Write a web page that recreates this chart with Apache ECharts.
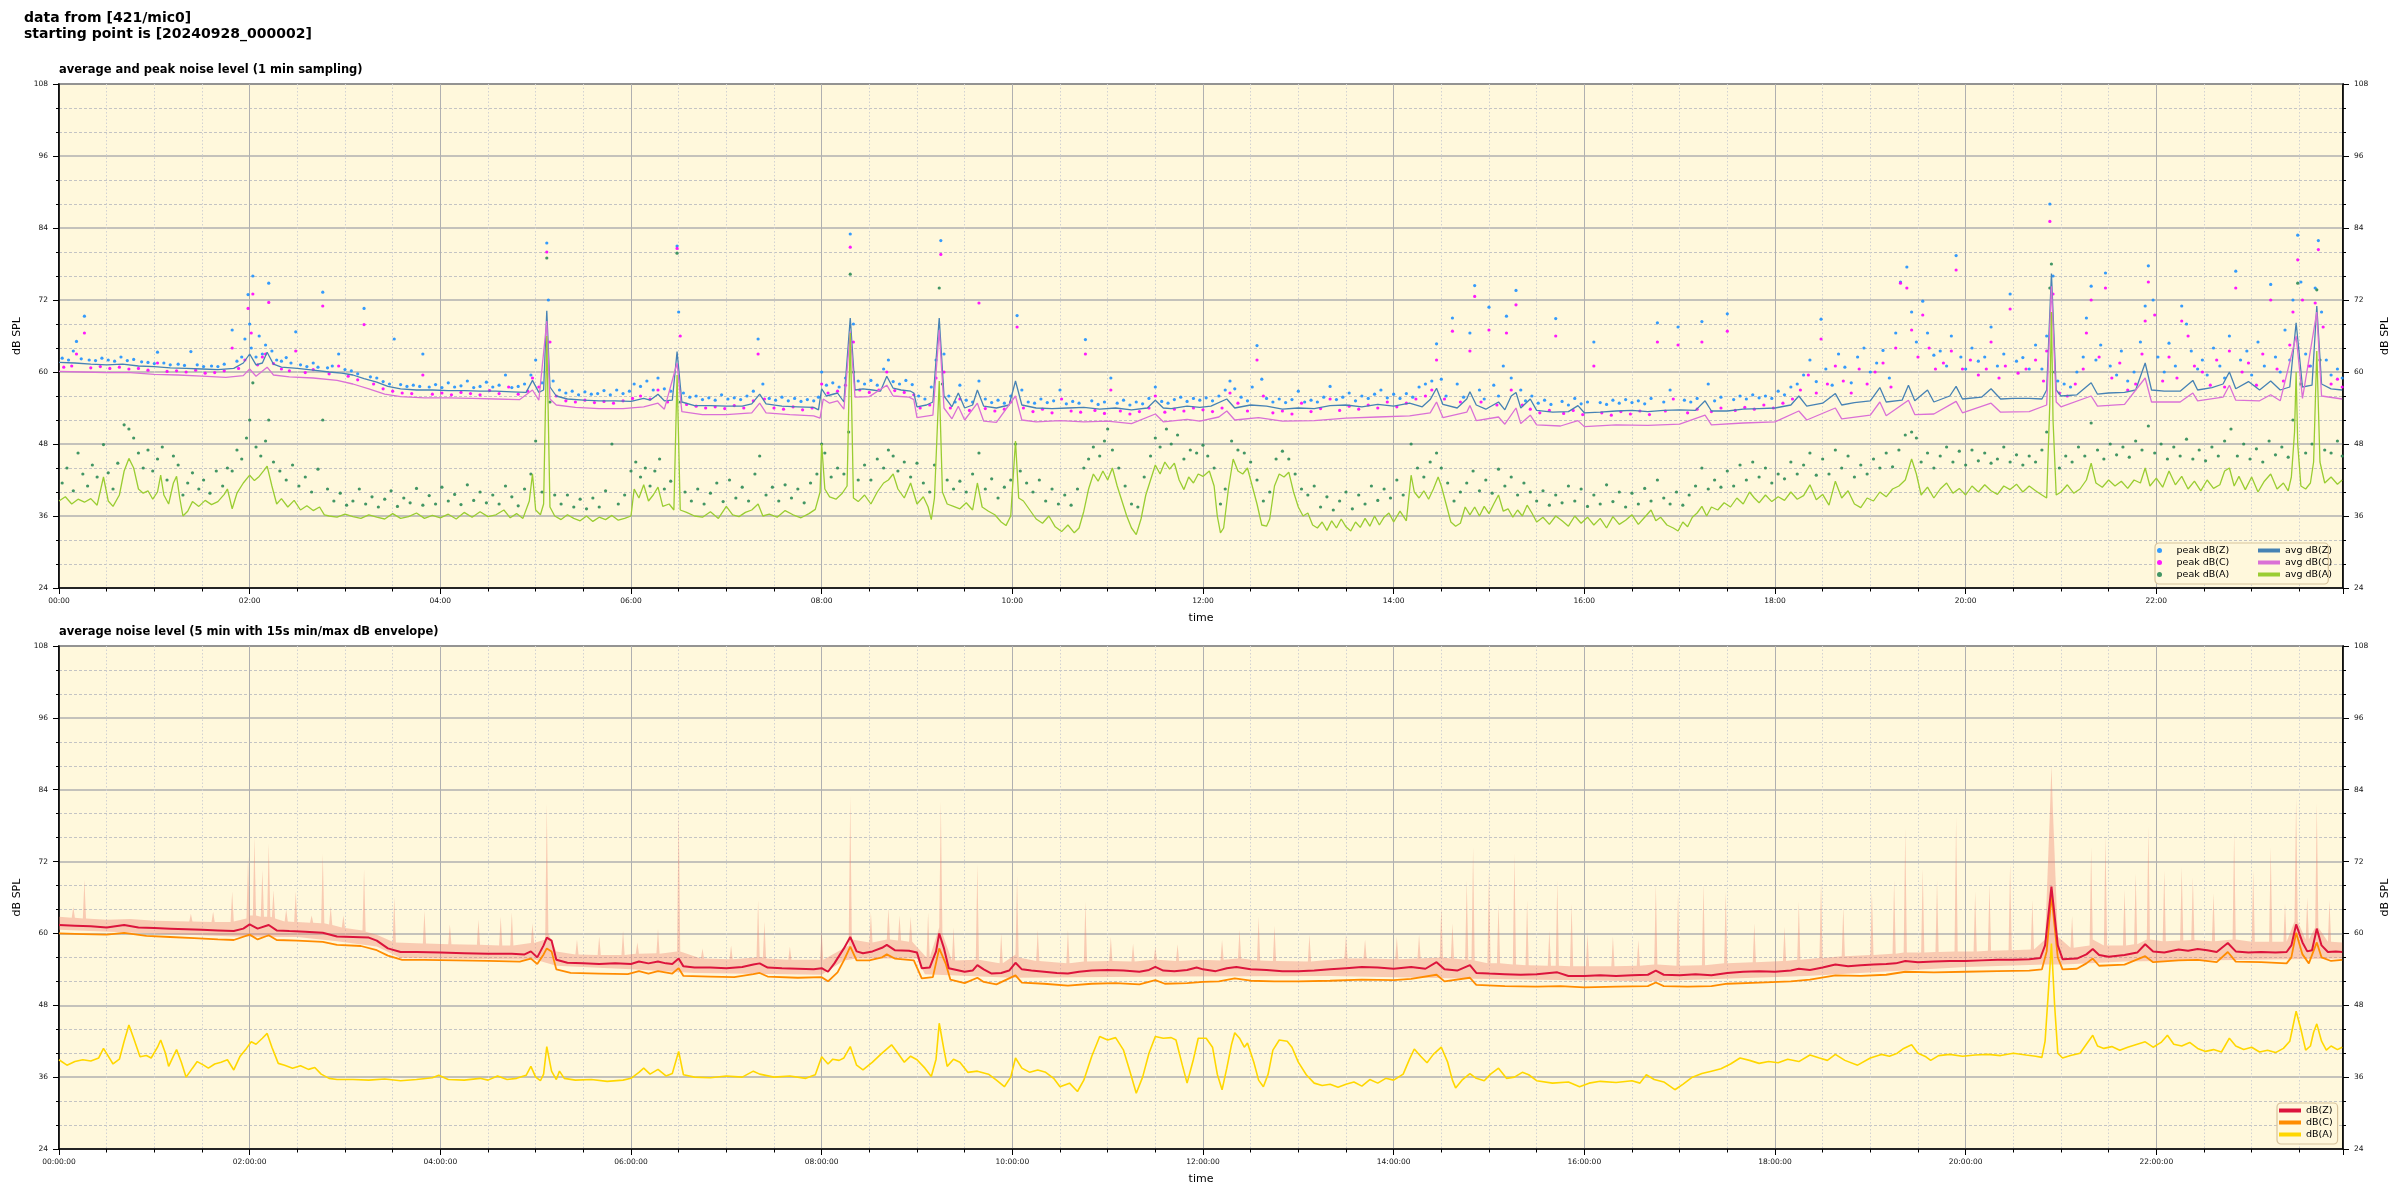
<!DOCTYPE html>
<html><head><meta charset="utf-8">
<script src="https://cdn.jsdelivr.net/npm/echarts@6/dist/echarts.min.js"></script>
<style>html,body{margin:0;padding:0;background:#fff}#c{width:2400px;height:1200px}</style>
</head><body><div id="c"></div>
<script>
// ---- data (x = minutes since 00:00, y = dB SPL) ----
const avgZ = [[0,61.6],[10,61.5],[20,61.3],[30,61.2],[40,61.3],[50,61.0],[60,60.9],[70,60.7],[80,60.6],[90,60.5],[100,60.4],[110,60.6],[116,61.5],[120,63.0],[124,61.2],[128,61.5],[131,63.3],[135,61.3],[140,60.8],[150,60.6],[160,60.3],[170,60.0],[178,59.8],[185,59.5],[192,58.9],[200,58.3],[207,57.6],[215,57.2],[225,57.0],[235,57.0],[245,56.9],[255,56.9],[265,56.8],[275,56.8],[285,56.7],[294,56.6],[298,58.6],[302,56.6],[305,57.0],[307,70.2],[309,57.5],[313,56.0],[320,55.5],[330,55.3],[340,55.2],[350,55.2],[360,55.1],[368,55.6],[372,55.3],[377,56.3],[381,55.2],[386,55.3],[389,63.4],[392,55.0],[400,54.4],[410,54.4],[420,54.3],[430,54.3],[436,54.7],[441,56.3],[445,54.7],[455,54.3],[465,54.2],[475,54.1],[478,53.7],[480,57.2],[483,56.0],[490,56.5],[494,55.0],[498,69.0],[501,57.0],[506,57.2],[512,57.0],[517,56.8],[521,59.3],[525,57.3],[530,57.0],[536,56.8],[538,56.5],[540,54.2],[546,54.5],[550,55.0],[554,69.0],[557,56.0],[562,54.2],[566,56.5],[570,54.0],[575,54.5],[578,57.0],[582,54.3],[590,54.0],[598,54.5],[602,58.5],[606,54.5],[615,54.0],[625,53.9],[635,54.0],[645,54.1],[655,53.8],[665,54.0],[675,53.7],[685,54.0],[690,55.3],[695,54.0],[700,53.9],[710,54.3],[718,54.1],[725,54.3],[735,55.5],[740,54.0],[750,54.5],[760,54.3],[770,53.8],[780,54.0],[790,53.9],[800,54.4],[810,54.5],[820,54.2],[830,54.6],[840,54.3],[850,54.8],[858,54.2],[863,55.4],[867,57.3],[871,54.6],[880,54.0],[886,55.5],[888,56.7],[892,54.5],[898,53.8],[906,55.0],[910,53.7],[914,56.0],[917,56.6],[920,54.0],[926,55.5],[930,53.6],[940,53.3],[950,53.4],[956,54.4],[960,53.2],[970,53.3],[980,53.5],[990,53.6],[1000,53.4],[1010,53.6],[1020,53.7],[1030,53.6],[1036,55.2],[1040,53.5],[1050,53.5],[1060,53.8],[1070,53.9],[1080,54.0],[1090,54.5],[1095,56.0],[1100,54.3],[1110,54.8],[1118,56.4],[1122,54.5],[1130,54.9],[1140,55.2],[1146,57.4],[1150,55.0],[1160,55.3],[1164,57.8],[1168,55.2],[1176,57.0],[1180,55.0],[1190,56.0],[1194,57.6],[1198,55.5],[1210,55.8],[1216,57.2],[1222,55.5],[1230,55.6],[1240,55.6],[1248,55.5],[1251,57.0],[1254,76.4],[1257,57.0],[1260,56.0],[1270,56.2],[1279,58.2],[1283,56.3],[1290,56.5],[1300,56.6],[1307,57.0],[1313,61.5],[1317,57.0],[1325,56.8],[1335,56.8],[1343,58.6],[1346,57.0],[1355,57.4],[1362,58.0],[1366,60.0],[1370,57.2],[1378,58.4],[1385,57.0],[1392,58.5],[1398,57.0],[1404,57.5],[1408,68.2],[1412,57.5],[1418,57.8],[1421,71.0],[1424,58.0],[1430,57.2],[1437,57.0]];

const avgC = [[0,60.1],[15,60.0],[30,59.9],[45,59.9],[60,59.6],[75,59.5],[90,59.3],[105,59.1],[116,59.4],[120,60.5],[124,59.3],[131,60.8],[135,59.5],[145,59.2],[160,59.0],[175,58.6],[185,58.0],[195,57.2],[205,56.3],[215,55.9],[230,55.7],[245,55.7],[260,55.6],[275,55.5],[290,55.4],[298,57.0],[302,55.3],[307,68.5],[309,55.5],[313,54.5],[325,54.1],[340,53.9],[355,53.9],[368,54.2],[377,54.8],[381,53.8],[389,61.5],[392,53.4],[405,52.9],[420,52.9],[436,53.2],[441,54.8],[445,53.2],[460,52.9],[475,52.7],[479,52.3],[481,55.5],[485,54.8],[490,55.2],[494,53.8],[498,66.8],[501,55.8],[510,55.9],[521,57.8],[525,56.0],[535,55.8],[538,55.4],[540,52.4],[550,52.8],[554,67.0],[557,54.0],[562,52.2],[566,54.3],[570,52.0],[578,54.8],[582,51.8],[590,51.6],[602,56.0],[606,52.0],[615,51.7],[630,51.9],[645,51.7],[660,51.8],[675,51.4],[690,53.0],[695,51.7],[710,52.1],[718,51.8],[730,52.5],[735,53.5],[740,52.0],[755,52.4],[770,51.8],[790,51.9],[810,52.3],[830,52.5],[850,52.7],[863,53.2],[867,55.0],[871,52.4],[886,53.3],[888,54.4],[892,51.9],[906,52.5],[910,51.3],[917,54.0],[920,51.4],[926,52.8],[930,51.2],[945,51.0],[956,51.9],[960,50.9],[980,51.2],[1000,51.1],[1020,51.3],[1036,52.8],[1040,51.2],[1060,51.5],[1080,51.7],[1095,53.5],[1100,52.0],[1118,54.0],[1122,52.2],[1140,52.8],[1146,55.0],[1150,52.7],[1164,55.3],[1168,52.9],[1180,53.0],[1194,55.1],[1198,53.2],[1216,54.8],[1222,53.3],[1240,53.4],[1251,54.5],[1254,74.3],[1257,55.0],[1260,54.2],[1279,56.0],[1283,54.3],[1300,54.6],[1313,59.0],[1317,55.0],[1335,55.0],[1343,56.5],[1346,55.2],[1362,55.8],[1366,57.8],[1370,55.3],[1385,55.2],[1392,56.2],[1398,55.2],[1408,66.0],[1412,55.6],[1421,70.0],[1424,56.0],[1437,55.5]];

const avgA = [[0,38.5],[4,39.2],[8,38.0],[12,38.8],[16,38.3],[20,38.9],[24,37.8],[28,42.5],[31,38.5],[34,37.6],[38,39.5],[41,43.5],[44,45.6],[47,44.0],[50,40.5],[53,39.8],[56,40.2],[59,38.8],[62,40.0],[64,42.8],[66,39.5],[69,38.0],[72,41.5],[74,42.6],[76,39.0],[78,36.0],[81,36.8],[84,38.4],[88,37.6],[92,38.6],[96,37.9],[100,38.4],[104,39.6],[106,40.5],[109,37.2],[112,39.8],[116,41.5],[120,42.8],[123,41.9],[126,42.6],[129,43.6],[131,44.3],[134,41.0],[137,38.0],[140,38.9],[144,37.5],[148,38.6],[152,37.0],[156,37.7],[160,36.9],[164,37.5],[167,36.2],[170,36.0],[175,35.8],[180,36.3],[185,35.9],[190,35.6],[195,36.2],[200,35.8],[205,35.5],[210,36.4],[215,35.6],[220,35.9],[225,36.5],[230,35.6],[235,36.1],[240,35.7],[245,36.3],[250,35.5],[255,36.6],[260,35.8],[265,36.7],[270,35.9],[275,36.2],[280,37.0],[284,35.7],[288,36.4],[292,35.6],[296,38.5],[298,43.0],[300,37.0],[303,36.2],[305,38.0],[307,66.0],[309,37.5],[312,36.0],[316,35.4],[320,36.2],[324,35.6],[328,35.2],[332,36.0],[336,35.1],[340,35.8],[344,35.4],[348,36.1],[352,35.3],[356,35.6],[360,36.0],[362,40.5],[365,39.0],[368,41.2],[371,38.5],[374,39.5],[377,40.8],[380,37.6],[384,38.0],[387,37.0],[389,59.5],[391,37.0],[395,36.6],[400,36.0],[405,35.8],[410,36.7],[415,35.6],[420,37.6],[424,36.2],[428,35.9],[432,36.6],[436,37.0],[440,38.0],[443,36.0],[447,36.3],[452,35.8],[457,36.9],[462,36.2],[467,35.7],[472,36.4],[476,37.1],[479,40.0],[480,48.0],[482,40.5],[485,39.2],[489,38.8],[493,39.8],[496,41.0],[498,66.5],[500,39.0],[503,38.4],[507,39.5],[511,38.0],[515,40.0],[519,41.5],[522,42.0],[525,43.0],[528,40.5],[532,39.0],[536,41.5],[540,38.0],[544,39.2],[547,37.5],[549,35.4],[551,39.0],[554,58.5],[556,40.0],[559,38.0],[563,37.6],[567,37.2],[571,38.2],[575,37.0],[578,41.5],[581,37.5],[585,36.8],[589,36.2],[593,35.0],[596,34.4],[599,36.0],[602,48.5],[604,39.0],[607,38.5],[611,37.0],[615,35.5],[619,34.8],[623,36.0],[627,34.2],[631,33.4],[635,34.5],[639,33.2],[642,34.0],[645,36.8],[648,40.5],[651,43.0],[654,41.8],[657,43.5],[660,42.0],[663,44.0],[666,41.0],[669,38.5],[672,36.0],[675,34.0],[678,32.9],[681,35.5],[684,39.5],[687,42.0],[690,44.5],[693,43.0],[696,45.0],[699,43.8],[702,44.8],[705,42.0],[708,40.4],[711,42.5],[714,41.5],[717,43.0],[720,42.6],[724,43.5],[727,41.0],[729,36.0],[731,33.2],[733,34.0],[736,40.5],[739,45.5],[742,43.5],[745,43.0],[748,44.0],[751,41.0],[754,38.0],[757,34.5],[760,34.3],[762,35.5],[765,41.0],[768,43.0],[771,42.5],[774,43.3],[777,40.0],[780,37.5],[783,36.0],[786,36.5],[789,34.5],[792,34.0],[795,35.0],[798,33.6],[801,35.2],[804,34.0],[807,35.5],[810,34.2],[813,33.5],[816,35.0],[819,34.1],[822,35.6],[825,34.3],[828,36.0],[831,34.5],[834,35.8],[837,36.5],[840,35.0],[844,36.8],[848,35.2],[851,42.8],[853,40.0],[856,39.0],[859,40.2],[862,38.8],[865,40.5],[868,42.5],[870,41.0],[873,38.0],[876,35.0],[879,34.3],[882,34.8],[885,37.5],[888,36.2],[891,37.5],[894,36.0],[897,37.6],[900,36.4],[903,38.0],[906,39.5],[909,36.8],[912,37.2],[915,35.8],[918,37.0],[921,36.0],[924,37.8],[927,36.5],[930,35.0],[934,35.8],[938,34.6],[942,36.0],[946,35.2],[950,34.3],[954,36.0],[958,34.8],[962,35.8],[966,34.5],[970,35.6],[974,34.0],[978,35.9],[982,34.6],[986,35.3],[990,36.2],[994,34.6],[998,35.8],[1002,37.0],[1005,35.2],[1008,35.8],[1012,34.5],[1016,34.0],[1019,33.5],[1022,35.0],[1025,34.2],[1028,35.8],[1031,36.5],[1034,37.6],[1037,36.0],[1040,37.5],[1044,37.0],[1048,38.2],[1052,37.5],[1056,39.0],[1060,38.0],[1064,40.0],[1067,39.0],[1070,38.2],[1074,39.5],[1078,38.4],[1082,39.2],[1086,38.6],[1090,40.0],[1094,38.8],[1098,39.4],[1102,41.2],[1106,38.7],[1110,39.6],[1114,37.8],[1118,41.8],[1122,39.0],[1126,40.2],[1130,38.0],[1134,37.4],[1138,39.0],[1142,38.5],[1146,40.0],[1150,39.2],[1154,40.5],[1158,41.0],[1162,42.0],[1166,45.5],[1169,43.0],[1172,39.5],[1176,40.8],[1180,39.0],[1184,40.5],[1188,41.5],[1192,39.8],[1196,40.6],[1200,39.5],[1204,41.0],[1208,40.0],[1212,41.2],[1216,40.2],[1220,39.6],[1224,41.0],[1228,40.4],[1232,41.3],[1236,40.0],[1240,41.0],[1244,40.2],[1248,39.5],[1251,39.0],[1253,55.0],[1254,70.0],[1255,52.0],[1257,39.5],[1260,40.0],[1264,41.2],[1268,39.8],[1272,40.5],[1276,42.0],[1279,44.8],[1282,41.5],[1286,40.8],[1290,42.0],[1294,41.0],[1298,41.8],[1302,40.6],[1306,42.0],[1310,41.5],[1313,44.0],[1316,41.0],[1320,42.3],[1324,40.8],[1328,43.5],[1332,41.2],[1336,42.6],[1340,40.5],[1344,41.8],[1348,40.2],[1352,42.0],[1356,40.6],[1360,41.2],[1363,43.5],[1366,44.0],[1369,41.0],[1372,42.6],[1376,40.4],[1380,42.5],[1384,40.0],[1388,41.8],[1392,43.0],[1396,40.5],[1400,41.5],[1403,40.2],[1405,42.5],[1407,50.0],[1408,60.0],[1409,48.0],[1411,41.0],[1414,40.5],[1417,41.5],[1419,45.0],[1421,63.5],[1423,45.0],[1426,41.5],[1430,42.5],[1434,41.3],[1437,42.0]];

const peakZ = [[2,62.3],[6,62.0],[9,63.5],[11,65.1],[14,62.2],[16,69.3],[19,62.0],[23,61.9],[27,62.3],[31,62.0],[35,61.8],[39,62.5],[43,61.9],[47,62.1],[52,61.7],[56,61.6],[60,61.4],[62,63.3],[66,61.5],[70,61.2],[75,61.3],[79,61.1],[83,63.4],[87,61.2],[91,60.9],[96,61.0],[100,60.9],[104,61.3],[109,67.0],[112,61.8],[115,62.5],[117,65.5],[119,72.9],[120,68.0],[121,64.0],[122,76.0],[124,62.5],[126,66.0],[128,63.0],[130,64.5],[132,74.8],[134,63.5],[137,62.0],[140,61.8],[143,62.4],[146,61.5],[149,66.7],[152,61.2],[156,60.9],[160,61.5],[163,60.8],[166,73.3],[169,60.7],[172,61.0],[176,63.0],[180,60.4],[184,60.2],[188,59.7],[192,70.6],[196,59.2],[200,59.0],[204,58.4],[208,58.0],[211,65.5],[215,57.9],[219,57.6],[223,57.8],[227,57.6],[229,63.0],[233,57.5],[237,57.9],[241,57.4],[245,58.2],[249,57.5],[253,57.7],[257,58.5],[261,57.4],[265,57.6],[269,58.3],[273,57.5],[277,57.8],[281,59.5],[285,57.4],[289,57.6],[293,58.0],[297,59.5],[300,62.0],[304,58.2],[307,81.5],[308,72.0],[311,58.5],[315,57.0],[319,56.5],[323,56.8],[327,56.2],[331,56.7],[335,56.3],[339,56.4],[343,56.9],[347,56.2],[351,57.0],[355,56.4],[359,56.8],[362,58.0],[366,57.6],[370,58.5],[374,57.0],[377,59.0],[381,57.2],[385,56.8],[389,81.0],[390,70.0],[393,56.5],[397,55.8],[401,56.0],[405,55.4],[409,55.7],[413,55.3],[417,56.2],[421,55.5],[425,55.7],[429,55.4],[433,56.0],[437,56.8],[440,65.5],[443,58.0],[447,55.6],[451,55.3],[455,55.8],[459,55.2],[463,55.6],[467,55.1],[471,55.4],[475,55.2],[478,55.8],[480,60.0],[483,57.8],[487,58.2],[491,57.5],[495,59.0],[498,83.0],[500,68.0],[503,58.5],[507,58.0],[511,58.6],[515,57.8],[519,60.5],[522,62.0],[525,58.4],[529,58.0],[533,58.6],[537,57.9],[541,56.0],[545,55.5],[549,57.5],[552,62.0],[555,81.9],[557,63.0],[560,56.0],[564,55.0],[567,57.8],[571,55.3],[575,55.0],[579,58.5],[583,55.5],[587,54.9],[591,55.3],[595,54.8],[599,56.0],[603,69.4],[606,57.0],[610,55.0],[614,54.8],[618,55.5],[622,54.9],[626,55.2],[630,57.0],[634,54.7],[638,55.1],[642,54.8],[646,65.4],[650,55.2],[654,54.6],[658,55.0],[662,59.0],[666,54.8],[670,55.3],[674,54.5],[678,55.0],[682,54.7],[686,55.6],[690,57.5],[694,55.1],[698,54.8],[702,55.4],[706,55.8],[710,55.1],[714,55.6],[718,55.3],[722,55.7],[726,55.2],[730,56.0],[734,57.0],[737,58.5],[740,57.2],[744,55.8],[748,55.2],[751,57.5],[754,64.4],[757,58.8],[760,55.6],[764,55.0],[768,55.5],[772,54.9],[776,55.4],[780,56.8],[784,55.0],[788,55.3],[792,55.0],[796,55.8],[800,57.6],[804,55.4],[808,55.8],[812,56.5],[816,55.2],[820,56.0],[824,55.6],[828,56.3],[832,57.0],[836,55.7],[840,56.3],[844,55.6],[848,56.4],[852,55.8],[856,57.5],[860,58.0],[864,58.5],[867,64.7],[870,58.8],[873,56.0],[877,69.0],[880,58.0],[884,55.8],[888,66.5],[891,74.4],[894,57.0],[897,55.5],[900,70.8],[903,57.8],[906,56.0],[909,61.0],[911,69.3],[914,59.0],[917,73.6],[920,57.0],[923,55.2],[927,56.0],[931,54.8],[935,55.3],[939,54.6],[942,68.9],[946,55.1],[950,54.5],[954,55.6],[958,54.7],[962,55.0],[966,65.0],[970,54.9],[974,54.6],[978,55.3],[982,54.8],[986,55.4],[990,54.9],[994,55.2],[998,54.7],[1002,55.6],[1006,68.2],[1010,55.0],[1014,57.0],[1019,67.5],[1023,55.3],[1027,55.0],[1031,55.6],[1034,68.4],[1038,58.0],[1042,55.2],[1046,55.8],[1050,69.7],[1054,55.4],[1058,56.0],[1062,55.5],[1066,56.2],[1070,55.7],[1074,56.0],[1078,55.6],[1082,56.8],[1086,56.2],[1090,57.5],[1094,58.0],[1098,59.5],[1102,62.0],[1106,58.4],[1109,68.8],[1112,60.5],[1116,57.8],[1120,63.0],[1124,60.8],[1128,58.2],[1132,62.5],[1136,64.0],[1140,60.0],[1144,61.5],[1148,63.6],[1152,59.0],[1156,66.5],[1159,75.0],[1163,77.5],[1166,70.0],[1169,65.0],[1173,71.8],[1176,66.5],[1180,62.8],[1184,63.5],[1188,61.0],[1191,66.0],[1194,79.4],[1197,62.5],[1200,60.5],[1204,64.0],[1208,61.8],[1212,62.5],[1216,67.5],[1220,61.0],[1224,63.0],[1228,73.0],[1232,61.8],[1236,62.4],[1240,60.5],[1244,64.5],[1248,60.5],[1251,66.0],[1253,88.0],[1255,76.0],[1258,58.5],[1262,58.0],[1266,57.5],[1270,60.0],[1274,62.5],[1276,69.0],[1279,74.3],[1282,62.0],[1285,64.5],[1288,76.5],[1291,61.0],[1295,59.5],[1298,63.5],[1302,58.5],[1306,60.0],[1310,65.0],[1313,71.0],[1315,77.7],[1318,72.0],[1321,62.5],[1325,60.0],[1328,64.8],[1332,61.0],[1336,71.0],[1339,68.0],[1342,63.5],[1346,60.5],[1349,62.0],[1352,59.5],[1356,64.0],[1360,61.0],[1363,59.0],[1366,66.0],[1370,76.8],[1373,62.0],[1377,63.5],[1380,59.5],[1384,65.0],[1388,61.0],[1392,74.6],[1395,62.5],[1398,60.0],[1401,67.0],[1404,62.0],[1406,72.0],[1409,82.8],[1411,75.0],[1414,63.0],[1417,61.0],[1420,74.0],[1422,81.9],[1424,70.0],[1427,62.0],[1430,59.5],[1434,60.5],[1437,59.0]];

const peakC = [[3,60.8],[8,61.0],[11,63.0],[16,66.5],[20,60.7],[26,60.9],[32,60.6],[38,60.8],[44,60.5],[50,60.6],[56,60.3],[62,61.5],[68,60.1],[74,60.2],[80,60.0],[86,60.3],[92,59.8],[98,59.9],[104,60.2],[109,64.0],[113,60.6],[117,62.0],[119,70.6],[121,66.5],[122,73.0],[125,61.2],[128,62.5],[130,63.0],[132,71.6],[135,61.4],[140,60.5],[145,60.2],[149,63.5],[155,59.9],[160,60.4],[166,71.0],[170,59.7],[176,61.0],[182,59.3],[188,58.7],[192,67.9],[198,58.0],[204,57.2],[210,56.8],[216,56.5],[222,56.4],[229,59.5],[235,56.3],[241,56.5],[247,56.2],[253,56.6],[259,56.4],[265,56.2],[271,56.9],[277,56.4],[283,57.5],[289,56.3],[295,56.8],[298,59.0],[302,57.5],[307,80.0],[309,65.0],[313,56.0],[319,55.2],[325,55.0],[331,55.3],[337,54.9],[343,55.1],[349,54.8],[355,55.2],[361,55.6],[366,56.0],[372,55.5],[377,57.0],[383,55.0],[389,80.6],[391,66.0],[395,54.6],[401,54.3],[407,54.0],[413,54.2],[419,53.9],[425,54.4],[431,54.0],[437,55.2],[440,63.0],[444,55.5],[450,54.0],[456,53.8],[462,54.2],[468,53.7],[474,54.0],[480,58.0],[484,56.5],[490,56.8],[495,57.8],[498,80.8],[500,65.0],[504,57.0],[510,56.6],[516,57.0],[521,60.0],[526,56.9],[532,56.6],[538,56.2],[542,54.0],[548,54.5],[552,59.0],[555,79.6],[557,60.0],[561,54.0],[567,55.5],[573,53.6],[579,71.5],[583,53.9],[589,53.5],[595,53.8],[599,55.0],[603,67.5],[607,54.0],[613,53.4],[619,53.8],[625,53.2],[631,55.5],[637,53.5],[643,53.3],[646,63.0],[652,53.6],[658,53.1],[662,57.0],[668,53.5],[674,53.0],[680,53.4],[686,54.0],[690,56.0],[696,53.3],[702,53.8],[708,53.5],[714,54.0],[720,53.7],[726,53.4],[732,54.0],[737,56.5],[742,54.8],[748,53.5],[754,62.0],[758,56.0],[764,53.2],[770,53.5],[776,53.0],[782,54.8],[788,53.4],[794,53.9],[800,55.5],[806,53.6],[812,54.3],[818,53.8],[824,54.5],[830,54.0],[836,55.0],[842,54.2],[848,54.8],[854,55.5],[860,56.0],[864,57.0],[867,62.0],[872,55.5],[877,66.8],[882,55.0],[888,63.5],[891,72.6],[895,55.0],[900,67.0],[905,54.5],[911,66.5],[914,57.0],[917,71.2],[921,54.5],[926,53.8],[932,53.2],[938,53.6],[942,66.0],[947,53.1],[953,53.6],[959,52.9],[966,61.0],[971,53.2],[977,52.8],[983,53.4],[989,53.0],[995,53.5],[1001,52.9],[1006,65.0],[1011,53.5],[1016,55.5],[1019,64.5],[1025,53.2],[1031,53.8],[1034,65.0],[1040,53.4],[1046,54.0],[1050,66.8],[1055,53.6],[1061,54.1],[1067,53.8],[1073,54.5],[1079,54.0],[1085,54.8],[1091,55.5],[1096,57.0],[1101,59.5],[1106,56.5],[1109,65.5],[1113,58.0],[1118,61.0],[1123,58.5],[1128,56.5],[1133,60.5],[1138,58.0],[1143,60.0],[1148,61.5],[1153,57.5],[1156,64.0],[1159,74.8],[1163,74.0],[1166,67.0],[1170,62.5],[1173,69.5],[1177,64.0],[1181,60.5],[1186,61.5],[1191,63.5],[1194,77.0],[1198,60.5],[1203,62.0],[1208,59.5],[1213,60.5],[1216,65.0],[1221,59.0],[1225,61.0],[1228,70.5],[1233,59.8],[1238,60.5],[1244,62.0],[1249,58.5],[1251,63.5],[1253,85.1],[1255,73.0],[1259,56.5],[1264,56.0],[1269,58.0],[1274,60.5],[1276,66.5],[1279,72.0],[1284,62.5],[1288,74.0],[1292,59.0],[1297,61.5],[1302,57.0],[1307,58.0],[1311,63.0],[1313,68.5],[1315,75.0],[1319,69.5],[1324,58.5],[1328,62.5],[1333,59.0],[1336,68.5],[1340,66.0],[1344,61.0],[1349,60.0],[1354,57.8],[1358,62.0],[1363,57.5],[1366,63.5],[1370,74.0],[1374,60.0],[1378,61.5],[1383,57.8],[1387,63.0],[1392,72.0],[1396,60.5],[1400,58.5],[1404,64.5],[1406,70.0],[1409,78.7],[1412,72.0],[1416,61.0],[1420,71.5],[1422,80.4],[1425,67.5],[1430,58.0],[1434,58.8],[1437,57.5]];

const peakA = [[2,41.5],[5,44.0],[9,40.2],[12,46.5],[15,43.0],[18,41.0],[21,44.5],[24,42.5],[28,47.9],[31,43.2],[34,40.5],[37,44.8],[41,51.2],[44,50.5],[47,49.0],[50,46.5],[53,44.0],[56,47.0],[59,43.5],[62,45.5],[65,47.5],[68,42.0],[72,46.0],[75,44.5],[78,39.5],[81,41.5],[84,43.2],[88,40.5],[91,42.0],[95,39.8],[99,43.5],[103,41.0],[106,44.0],[109,43.5],[112,47.0],[115,45.5],[118,49.0],[120,52.0],[122,58.2],[124,47.5],[127,46.0],[130,48.5],[132,52.0],[135,45.0],[139,43.5],[143,42.0],[147,44.5],[151,41.0],[155,42.5],[159,40.0],[163,43.8],[166,52.0],[169,40.5],[173,38.5],[177,39.8],[181,37.8],[185,38.5],[189,40.5],[193,38.0],[197,39.2],[201,37.5],[205,38.8],[209,40.2],[213,37.6],[217,39.0],[221,38.2],[225,40.6],[229,37.8],[233,39.4],[237,38.0],[241,40.8],[245,38.5],[249,39.6],[253,37.9],[257,41.2],[261,38.6],[265,40.0],[269,38.2],[273,39.5],[277,38.0],[281,41.0],[285,39.2],[289,37.7],[293,40.5],[297,43.0],[300,48.5],[304,40.0],[307,79.0],[309,55.0],[312,39.5],[316,38.0],[320,39.5],[324,37.5],[328,38.8],[332,37.2],[336,39.0],[340,37.5],[344,40.2],[348,48.0],[352,38.0],[356,39.5],[360,43.5],[363,45.0],[366,42.5],[369,44.0],[372,41.0],[375,43.5],[378,45.5],[381,40.5],[385,41.8],[389,79.8],[391,55.0],[394,40.0],[398,38.5],[402,40.5],[406,38.0],[410,39.8],[414,41.5],[418,38.4],[422,42.0],[426,39.0],[430,40.8],[434,38.5],[438,43.0],[441,46.0],[445,39.5],[449,40.8],[453,38.5],[457,41.2],[461,39.0],[465,40.5],[469,38.2],[473,41.5],[477,43.0],[480,48.0],[482,46.5],[486,42.5],[490,44.0],[494,43.0],[497,50.0],[498,76.3],[500,60.0],[503,42.0],[507,44.5],[511,42.0],[515,45.5],[519,44.0],[522,47.0],[525,46.0],[528,43.5],[532,45.0],[536,42.5],[540,44.8],[544,41.5],[548,40.0],[551,44.5],[554,74.0],[556,58.0],[559,42.0],[563,40.5],[567,41.8],[571,40.0],[575,43.0],[579,46.5],[583,40.5],[587,42.2],[591,39.0],[595,40.8],[599,42.0],[602,48.0],[605,43.5],[609,41.5],[613,40.0],[617,42.0],[621,38.5],[625,40.5],[629,38.0],[633,39.5],[637,37.8],[641,40.5],[645,44.0],[648,45.5],[651,47.5],[655,46.0],[658,48.5],[660,50.5],[663,47.0],[667,44.0],[671,41.0],[675,38.0],[679,37.5],[683,42.5],[687,46.0],[690,49.0],[693,47.5],[697,50.5],[700,48.0],[704,49.5],[708,45.5],[712,47.0],[716,46.5],[720,47.8],[723,46.0],[727,44.0],[731,38.0],[734,40.5],[738,48.5],[742,47.0],[746,46.5],[750,45.0],[754,42.0],[758,38.5],[762,40.0],[766,45.5],[770,46.8],[774,45.5],[778,43.0],[782,40.5],[786,39.5],[790,41.0],[794,37.5],[798,39.2],[802,37.0],[806,38.5],[810,40.0],[814,37.2],[818,39.5],[822,38.0],[826,41.0],[830,38.6],[834,40.5],[838,39.0],[842,42.0],[846,39.5],[851,48.0],[855,44.0],[859,42.5],[863,45.0],[867,46.5],[870,44.0],[874,41.5],[878,38.5],[882,40.0],[886,41.5],[890,43.5],[894,40.2],[898,42.0],[902,39.8],[906,43.8],[910,41.0],[914,42.5],[918,39.5],[922,41.5],[926,40.0],[930,38.5],[934,40.2],[938,37.8],[942,39.5],[946,38.2],[950,41.0],[954,38.5],[958,40.5],[962,37.6],[966,39.5],[970,38.0],[974,41.2],[978,38.4],[982,40.0],[986,37.5],[990,39.8],[994,38.0],[998,40.6],[1002,38.5],[1006,42.0],[1010,39.0],[1014,38.0],[1018,40.0],[1022,37.8],[1026,39.5],[1030,41.0],[1034,44.0],[1038,40.5],[1042,42.0],[1046,40.8],[1050,43.5],[1054,41.0],[1058,44.5],[1062,42.0],[1066,45.0],[1070,42.5],[1074,44.0],[1078,41.5],[1082,43.0],[1086,42.2],[1090,45.0],[1094,43.0],[1098,44.5],[1102,46.5],[1106,42.8],[1110,45.5],[1114,43.0],[1118,47.0],[1122,44.0],[1126,46.0],[1130,42.5],[1134,44.5],[1138,43.0],[1142,45.5],[1146,44.0],[1150,46.5],[1154,44.2],[1158,47.0],[1162,49.5],[1166,50.0],[1169,49.0],[1172,45.0],[1176,46.5],[1180,44.0],[1184,46.0],[1188,47.5],[1192,45.0],[1196,46.8],[1200,44.5],[1204,47.0],[1208,45.2],[1212,46.5],[1216,44.8],[1220,45.5],[1224,47.5],[1228,45.0],[1232,46.2],[1236,44.5],[1240,46.0],[1244,45.0],[1248,47.0],[1251,50.0],[1253,74.0],[1254,78.0],[1256,60.0],[1259,44.0],[1263,46.0],[1267,45.0],[1271,47.5],[1275,46.0],[1279,51.5],[1283,47.0],[1287,45.5],[1291,48.0],[1295,46.2],[1299,47.5],[1303,45.8],[1307,48.5],[1311,47.0],[1315,51.0],[1319,46.5],[1323,48.0],[1327,45.5],[1331,47.5],[1335,46.0],[1339,48.8],[1343,45.5],[1347,47.0],[1351,45.2],[1355,47.5],[1359,46.0],[1363,48.5],[1367,50.5],[1371,46.0],[1375,48.0],[1379,45.5],[1383,47.2],[1387,45.0],[1391,48.5],[1395,46.2],[1399,47.5],[1403,45.8],[1406,52.0],[1409,74.8],[1411,58.0],[1414,46.5],[1418,48.0],[1421,73.7],[1423,62.0],[1426,47.0],[1430,46.5],[1434,48.5],[1437,46.0]];

const z5 = [[0,61.4],[10,61.3],[20,61.2],[30,61.0],[41,61.4],[50,61.0],[60,60.9],[70,60.8],[80,60.7],[90,60.6],[100,60.5],[110,60.4],[116,60.8],[120,61.5],[125,60.8],[132,61.4],[137,60.5],[145,60.4],[155,60.3],[166,60.1],[175,59.5],[185,59.4],[195,59.3],[200,58.8],[207,57.5],[215,56.9],[225,56.9],[240,56.8],[255,56.7],[270,56.6],[285,56.6],[293,56.5],[297,57.0],[301,56.0],[305,58.0],[307,59.3],[310,58.8],[313,55.6],[320,55.1],[330,55.0],[340,54.9],[350,55.0],[360,54.9],[365,55.3],[371,55.0],[377,55.3],[382,55.0],[386,54.9],[390,55.8],[393,54.5],[400,54.3],[410,54.3],[420,54.2],[430,54.4],[437,54.8],[441,55.0],[446,54.3],[455,54.2],[465,54.1],[475,54.0],[480,54.2],[484,53.6],[488,55.0],[494,57.5],[498,59.4],[502,57.0],[506,56.7],[512,57.0],[518,57.6],[521,58.1],[526,57.2],[535,57.1],[540,56.8],[543,54.2],[548,54.3],[552,57.0],[554,60.0],[557,57.5],[560,54.2],[565,53.9],[570,53.6],[575,53.8],[578,54.7],[582,54.0],[587,53.3],[593,53.4],[598,53.8],[602,55.1],[606,54.0],[612,53.8],[620,53.6],[628,53.4],[635,53.3],[642,53.6],[650,53.8],[660,53.9],[670,53.8],[680,53.6],[686,53.9],[690,54.4],[695,53.8],[702,53.7],[710,53.9],[716,54.3],[720,54.0],[728,53.7],[735,54.2],[741,54.4],[750,54.0],[760,53.9],[770,53.7],[780,53.7],[790,53.8],[800,54.0],[810,54.2],[820,54.4],[830,54.3],[840,54.1],[851,54.4],[860,54.1],[867,55.2],[872,54.0],[880,53.8],[888,54.7],[892,53.4],[900,53.3],[910,53.2],[920,53.1],[930,53.2],[943,53.5],[950,52.9],[960,52.9],[970,53.0],[980,52.9],[990,53.0],[1000,53.1],[1005,53.8],[1010,53.1],[1020,53.0],[1030,53.2],[1040,53.0],[1050,53.4],[1060,53.6],[1070,53.7],[1080,53.6],[1090,53.8],[1095,54.1],[1102,53.9],[1110,54.3],[1118,54.8],[1126,54.5],[1134,54.7],[1142,54.8],[1150,54.9],[1156,55.0],[1162,55.4],[1170,55.2],[1180,55.3],[1190,55.4],[1200,55.4],[1210,55.5],[1220,55.6],[1230,55.6],[1240,55.7],[1247,55.9],[1250,58.0],[1254,67.8],[1258,58.0],[1261,55.7],[1270,55.8],[1276,56.5],[1280,57.4],[1284,56.4],[1290,56.1],[1300,56.4],[1308,56.8],[1313,58.2],[1318,57.0],[1325,56.8],[1334,57.3],[1340,57.1],[1346,57.4],[1352,57.2],[1358,56.9],[1365,58.4],[1370,57.0],[1378,56.8],[1386,56.9],[1395,56.8],[1402,56.9],[1405,58.0],[1408,61.5],[1412,58.5],[1415,57.0],[1418,57.2],[1421,60.8],[1424,58.0],[1428,56.9],[1433,57.0],[1437,56.9]];

const c5 = [[0,60.0],[15,59.9],[30,59.8],[41,60.1],[55,59.6],[70,59.4],[85,59.2],[100,59.0],[110,58.9],[120,59.8],[125,59.0],[132,59.7],[137,58.9],[150,58.8],[166,58.6],[175,58.1],[190,57.9],[200,57.2],[207,56.3],[216,55.6],[230,55.6],[250,55.5],[270,55.4],[290,55.3],[297,55.8],[301,54.9],[305,56.5],[307,57.5],[310,57.0],[313,54.0],[322,53.4],[340,53.3],[358,53.2],[365,53.7],[371,53.3],[377,53.7],[386,53.3],[390,54.2],[393,52.9],[410,52.8],[425,52.7],[437,53.2],[441,53.4],[446,52.8],[465,52.6],[480,52.7],[484,52.0],[490,53.5],[494,55.5],[498,57.8],[502,55.5],[510,55.5],[518,56.0],[521,56.5],[526,55.8],[538,55.5],[543,52.5],[550,52.7],[554,57.5],[558,55.0],[561,52.3],[570,51.7],[578,52.6],[582,51.9],[590,51.5],[602,53.0],[606,51.8],[620,51.6],[635,51.3],[650,51.6],[665,51.7],[680,51.5],[690,52.2],[696,51.6],[710,51.7],[720,51.9],[730,52.0],[740,52.5],[750,52.1],[765,52.0],[780,52.0],[800,52.1],[820,52.3],[840,52.2],[851,52.4],[867,53.1],[872,52.0],[888,52.6],[892,51.4],[910,51.2],[930,51.1],[945,51.2],[960,51.0],[980,51.1],[1000,51.2],[1005,51.8],[1010,51.2],[1025,51.1],[1040,51.2],[1050,51.6],[1070,51.8],[1090,52.0],[1102,52.3],[1118,53.0],[1134,52.9],[1150,53.1],[1162,53.6],[1180,53.5],[1200,53.6],[1220,53.7],[1240,53.8],[1248,54.0],[1251,57.0],[1254,66.4],[1258,56.0],[1261,54.0],[1270,54.1],[1276,55.0],[1280,55.8],[1284,54.6],[1300,54.8],[1313,56.2],[1318,55.2],[1334,55.5],[1346,55.6],[1358,55.2],[1365,56.9],[1370,55.3],[1386,55.2],[1402,55.0],[1405,56.0],[1408,60.1],[1412,56.5],[1416,55.0],[1421,58.5],[1424,56.0],[1430,55.4],[1437,55.6]];

const a5 = [[0,38.9],[5,38.0],[10,38.6],[15,38.9],[20,38.7],[25,39.2],[28,40.8],[31,39.5],[34,38.2],[38,39.0],[41,42.0],[44,44.7],[47,42.5],[51,39.4],[55,39.6],[58,39.2],[62,41.0],[64,42.2],[67,40.0],[69,37.8],[72,39.5],[74,40.6],[77,38.5],[80,36.0],[84,37.5],[87,38.6],[91,38.0],[94,37.5],[98,38.2],[102,38.5],[106,38.9],[110,37.2],[114,39.5],[118,40.8],[121,41.9],[124,41.5],[128,42.5],[131,43.3],[134,41.0],[138,38.3],[142,38.0],[147,37.5],[152,37.9],[157,37.3],[161,37.6],[165,36.5],[170,35.8],[175,35.6],[185,35.6],[195,35.5],[205,35.7],[215,35.4],[225,35.6],[235,35.9],[239,36.3],[245,35.6],[255,35.5],[265,35.8],[270,35.5],[276,36.2],[282,35.6],[288,35.8],[294,36.3],[297,37.8],[300,36.0],[303,35.4],[305,36.5],[307,41.1],[310,37.0],[313,35.6],[315,37.0],[318,35.8],[325,35.5],[335,35.6],[345,35.3],[355,35.5],[360,35.8],[365,36.8],[368,37.5],[372,36.5],[377,37.3],[382,36.2],[386,36.6],[390,40.3],[393,36.4],[400,36.0],[410,35.9],[420,36.2],[430,36.0],[437,37.0],[441,36.5],[450,36.0],[460,36.2],[470,35.8],[476,36.4],[480,39.4],[484,38.2],[487,39.0],[491,38.8],[494,39.2],[498,41.1],[502,38.0],[506,37.2],[512,38.5],[518,40.0],[524,41.4],[528,40.0],[532,38.5],[536,39.5],[540,38.9],[545,37.5],[549,36.1],[552,39.0],[554,45.0],[557,40.5],[559,37.8],[563,39.0],[567,38.5],[572,36.8],[578,37.0],[585,36.5],[590,35.5],[595,34.4],[599,36.0],[602,39.2],[606,37.5],[611,36.8],[616,37.2],[621,36.8],[626,35.8],[630,34.4],[636,35.0],[641,33.6],[645,35.5],[650,39.5],[655,42.8],[660,42.2],[665,42.6],[670,40.5],[674,37.0],[678,33.3],[682,36.0],[686,40.0],[690,42.8],[695,42.5],[700,42.6],[703,42.2],[707,38.0],[710,35.0],[714,39.0],[717,42.5],[722,42.5],[726,41.0],[729,36.5],[732,33.9],[735,37.5],[738,41.5],[740,43.4],[743,42.5],[746,41.0],[748,41.7],[752,38.5],[755,35.5],[758,34.4],[761,36.5],[764,40.5],[768,42.2],[773,42.0],[776,41.0],[780,38.5],[785,36.4],[790,35.0],[795,34.6],[800,34.8],[805,34.3],[810,34.8],[815,35.2],[820,34.5],[825,35.6],[830,35.0],[835,35.8],[840,35.5],[846,36.5],[850,39.0],[853,40.7],[857,39.5],[861,38.4],[865,39.8],[870,41.0],[874,38.5],[877,35.5],[879,34.2],[883,35.5],[888,36.6],[892,35.8],[897,35.4],[901,36.5],[906,37.5],[911,35.8],[916,36.0],[921,36.8],[925,36.4],[930,35.4],[940,35.0],[950,35.2],[957,34.4],[963,35.0],[970,35.3],[980,35.1],[990,35.4],[995,35.0],[999,36.4],[1004,35.6],[1010,35.2],[1017,33.9],[1022,34.8],[1028,36.0],[1034,36.6],[1040,37.0],[1046,37.4],[1052,38.2],[1058,39.2],[1064,38.8],[1070,38.3],[1076,38.6],[1082,38.4],[1088,39.0],[1095,38.6],[1102,39.7],[1108,39.2],[1113,38.8],[1118,39.8],[1124,38.8],[1132,38.0],[1140,39.2],[1147,39.8],[1152,39.5],[1157,40.0],[1161,40.8],[1166,41.4],[1170,40.0],[1175,39.4],[1178,38.8],[1183,39.6],[1190,39.8],[1198,39.5],[1206,39.7],[1214,39.8],[1222,39.6],[1230,40.0],[1238,39.7],[1244,39.5],[1248,39.3],[1250,42.0],[1252,50.0],[1254,58.3],[1256,48.0],[1258,40.0],[1261,39.2],[1266,39.6],[1272,40.0],[1276,41.5],[1280,43.0],[1283,41.2],[1287,40.8],[1292,41.1],[1297,40.5],[1302,41.0],[1308,41.5],[1313,41.9],[1318,41.0],[1323,41.8],[1327,43.0],[1331,41.5],[1336,41.2],[1341,41.8],[1346,40.8],[1351,40.3],[1356,40.6],[1361,40.2],[1366,42.5],[1370,41.2],[1375,40.6],[1380,41.0],[1385,40.2],[1390,40.5],[1395,40.1],[1400,40.8],[1404,42.0],[1406,44.5],[1408,47.0],[1411,44.0],[1414,40.5],[1417,41.2],[1419,43.5],[1421,44.9],[1424,42.0],[1427,40.5],[1430,41.2],[1434,40.6],[1437,41.0]];

const envLo = [[0,60.6],[60,60.0],[110,59.5],[150,59.4],[175,58.7],[200,57.8],[215,55.9],[300,55.6],[313,54.6],[360,54.0],[400,53.4],[480,53.1],[494,55.5],[502,55.8],[540,55.8],[545,53.2],[600,52.6],[700,52.8],[800,52.9],[900,52.4],[1000,52.0],[1100,52.9],[1200,54.4],[1250,54.8],[1262,54.8],[1300,55.3],[1437,55.8]];

const envHi = [[0,62.8],[8,62.6],[9,64.4],[10,62.6],[15,62.5],[16,69.0],[17,62.5],[30,62.3],[45,62.4],[60,62.1],[82,62.0],[83,63.3],[84,62.0],[96,61.9],[97,63.6],[98,61.9],[108,61.9],[109,67.0],[110,62.0],[118,62.5],[119,72.8],[120,63.0],[122,63.0],[123,76.1],[124,63.0],[127,62.8],[128,70.6],[129,62.8],[131,62.8],[132,75.0],[133,62.8],[134,62.7],[135,67.2],[136,62.5],[142,62.0],[143,64.0],[144,62.0],[148,61.9],[149,67.0],[150,61.9],[158,61.8],[159,63.0],[160,61.8],[165,61.7],[166,73.3],[167,61.7],[170,61.5],[171,64.5],[172,61.4],[178,61.0],[179,63.0],[180,60.9],[191,60.5],[192,70.7],[193,60.3],[200,59.8],[210,58.6],[211,66.1],[212,58.5],[229,58.3],[230,63.8],[231,58.3],[245,58.2],[246,61.5],[247,58.2],[263,58.1],[264,62.3],[265,58.1],[277,58.0],[278,62.8],[279,58.0],[284,58.0],[285,63.5],[286,58.0],[297,58.4],[298,61.7],[299,58.4],[306,59.0],[307,81.7],[308,60.0],[313,57.0],[325,56.5],[326,59.0],[327,56.5],[339,56.4],[340,59.5],[341,56.4],[354,56.4],[355,60.5],[356,56.4],[363,56.6],[364,58.5],[365,56.6],[376,56.7],[377,60.8],[378,56.6],[389,57.0],[390,81.1],[391,57.0],[404,55.8],[405,57.5],[406,55.8],[422,55.7],[423,58.0],[424,55.7],[439,56.0],[440,65.6],[441,56.0],[443,56.0],[444,62.0],[445,55.8],[459,55.6],[460,57.8],[461,55.6],[479,55.6],[480,60.5],[481,55.6],[497,58.0],[498,83.0],[499,59.0],[510,58.5],[511,63.5],[512,58.5],[521,59.0],[522,64.2],[523,59.0],[528,58.8],[529,63.0],[530,58.8],[535,58.6],[536,62.8],[537,58.6],[546,56.0],[547,63.5],[548,56.0],[554,61.0],[555,82.0],[556,60.0],[562,55.5],[563,61.0],[564,55.5],[577,55.6],[578,71.6],[579,55.6],[592,55.0],[593,60.0],[594,55.0],[602,56.5],[603,69.6],[604,56.0],[615,55.4],[616,60.6],[617,55.4],[634,55.0],[635,60.6],[636,55.0],[645,55.3],[646,65.3],[647,55.3],[661,55.4],[662,59.4],[663,55.4],[675,55.3],[676,58.3],[677,55.3],[689,55.6],[690,57.8],[691,55.6],[703,55.4],[704,58.2],[705,55.4],[718,55.6],[731,55.5],[732,58.9],[733,55.6],[742,55.8],[743,60.6],[744,55.8],[754,55.5],[755,62.8],[756,55.5],[764,55.4],[765,61.3],[766,55.4],[786,55.3],[787,59.8],[788,55.3],[809,55.8],[810,59.8],[811,55.8],[821,55.8],[822,59.0],[823,55.8],[841,55.7],[842,59.4],[843,55.7],[855,55.8],[856,59.8],[857,55.8],[869,56.0],[870,64.7],[871,56.0],[876,55.8],[877,61.7],[878,55.8],[885,55.6],[886,68.9],[887,55.6],[889,55.6],[890,74.4],[891,55.5],[899,55.0],[900,70.3],[901,55.0],[905,55.0],[906,65.0],[907,55.0],[915,54.8],[916,73.4],[917,54.8],[923,54.7],[924,65.6],[925,54.7],[937,54.6],[938,60.5],[939,54.6],[942,54.6],[943,68.9],[944,54.6],[951,54.5],[952,65.0],[953,54.5],[961,54.5],[962,60.0],[963,54.5],[977,54.5],[978,59.5],[979,54.5],[993,54.6],[994,58.9],[995,54.6],[1004,54.8],[1005,68.2],[1006,54.8],[1018,54.6],[1019,66.9],[1020,54.6],[1034,54.7],[1035,68.3],[1036,54.7],[1048,55.0],[1049,67.0],[1050,55.0],[1066,55.2],[1067,61.7],[1068,55.2],[1085,55.4],[1086,61.1],[1087,55.4],[1094,55.6],[1095,65.3],[1096,55.6],[1108,55.9],[1109,68.6],[1110,55.9],[1122,56.2],[1123,64.4],[1124,56.2],[1140,56.4],[1141,67.0],[1142,56.4],[1154,56.6],[1155,68.9],[1156,56.6],[1161,56.8],[1162,77.5],[1163,56.8],[1172,56.8],[1173,70.8],[1174,56.8],[1181,56.9],[1182,68.9],[1183,56.9],[1193,57.0],[1194,79.4],[1195,57.0],[1205,57.0],[1206,67.0],[1207,57.0],[1214,57.1],[1215,68.3],[1216,57.1],[1227,57.2],[1228,71.7],[1229,57.2],[1241,57.3],[1242,65.6],[1243,57.3],[1250,59.0],[1253,80.0],[1254,88.0],[1255,80.0],[1258,59.5],[1266,57.6],[1267,62.9],[1268,57.6],[1278,58.0],[1279,74.4],[1280,59.0],[1287,58.0],[1288,76.4],[1289,58.0],[1299,58.0],[1300,67.3],[1301,58.0],[1306,58.2],[1307,70.0],[1308,58.2],[1314,59.0],[1315,77.8],[1316,59.0],[1324,58.7],[1325,70.5],[1326,58.7],[1335,58.8],[1336,71.1],[1337,58.8],[1342,58.9],[1343,69.4],[1344,58.9],[1355,58.7],[1356,66.7],[1357,58.7],[1368,59.0],[1369,76.9],[1370,59.0],[1380,58.6],[1381,70.5],[1382,58.6],[1391,58.6],[1392,74.4],[1393,58.6],[1400,58.6],[1401,65.0],[1402,58.6],[1407,62.0],[1408,82.8],[1409,62.0],[1414,59.0],[1415,66.0],[1416,59.0],[1420,61.0],[1421,81.8],[1422,61.0],[1428,58.6],[1429,65.6],[1430,58.6],[1437,58.5]];

const yTicks = {min: 24, max: 108, step: 12};
const xRange = {min: 0, max: 1437.5, step: 120};

// ---- chart ----
const FONT = 'DejaVu Sans';
const pad = n => String(n).padStart(2, '0');
const hm = v => pad(Math.floor(v / 60)) + ':' + pad(Math.round(v % 60));
const hms = v => hm(v) + ':00';

function yAxis(grid, pos) {
  const left = pos === 'left';
  return {
    type: 'value', gridIndex: grid, position: pos,
    min: yTicks.min, max: yTicks.max, interval: yTicks.step,
    name: 'dB SPL', nameLocation: 'middle', nameGap: 33, nameRotate: 90,
    nameTextStyle: {fontFamily: FONT, fontSize: 11, color: '#000'},
    axisLine: {show: true, onZero: false, lineStyle: {color: '#000', width: 1.5}},
    axisTick: {show: true, length: 6, lineStyle: {color: '#000', width: 1}},
    minorTick: {show: true, splitNumber: 3, length: 3, lineStyle: {color: '#000', width: 1}},
    axisLabel: {fontFamily: FONT, fontSize: 7.5, color: '#111', margin: 11},
    splitLine: {show: left, lineStyle: {color: '#b0b0b0', width: 1.6}},
    minorSplitLine: {show: left, lineStyle: {color: '#c4c4c4', width: 1, type: [3, 2]}}
  };
}
function xAxis(grid, fmt) {
  return {
    type: 'value', gridIndex: grid, position: 'bottom',
    min: xRange.min, max: xRange.max, interval: xRange.step,
    name: 'time', nameLocation: 'middle', nameGap: 25,
    nameTextStyle: {fontFamily: FONT, fontSize: 11, color: '#000'},
    axisLine: {show: true, onZero: false, lineStyle: {color: '#000', width: 1.5}},
    axisTick: {show: true, length: 6, lineStyle: {color: '#000', width: 1}},
    minorTick: {show: true, splitNumber: 4, length: 3.5, lineStyle: {color: '#000', width: 1}},
    axisLabel: {fontFamily: FONT, fontSize: 7.5, color: '#111', margin: 9, formatter: fmt, showMaxLabel: false},
    splitLine: {show: true, lineStyle: {color: '#b0b0b0', width: 1}},
    minorSplitLine: {show: true, lineStyle: {color: '#d2d2d2', width: 1, type: [1.5, 2]}}
  };
}
const scat = (name, data, color) => ({
  name, type: 'scatter', xAxisIndex: 0, yAxisIndex: 0, data,
  symbol: 'circle', symbolSize: 3.2, itemStyle: {color, opacity: 0.9}, z: 2, silent: true
});
const line = (name, data, color, w, xi, yi, z) => ({
  name, type: 'line', xAxisIndex: xi, yAxisIndex: yi, data,
  showSymbol: false, symbol: 'none', lineStyle: {color, width: w}, itemStyle: {color}, z, silent: true
});
const legText = {fontFamily: FONT, fontSize: 9.5, color: '#000', lineHeight: 11};

const option = {
  animation: false,
  backgroundColor: '#ffffff',
  textStyle: {fontFamily: FONT},
  title: [
    {text: 'data from [421/mic0]\nstarting point is [20240928_000002]', left: 24, top: 10, padding: 0,
     textStyle: {fontFamily: FONT, fontWeight: 'bold', fontSize: 14, lineHeight: 16, color: '#000'}},
    {text: 'average and peak noise level (1 min sampling)', left: 59, top: 64, padding: 0,
     textStyle: {fontFamily: FONT, fontWeight: 'bold', fontSize: 11.5, color: '#000'}},
    {text: 'average noise level (5 min with 15s min/max dB envelope)', left: 59, top: 626, padding: 0,
     textStyle: {fontFamily: FONT, fontWeight: 'bold', fontSize: 11.5, color: '#000'}}
  ],
  grid: [
    {left: 59, right: 57, top: 84, height: 504, show: true, backgroundColor: '#fff8dc', borderColor: '#000', borderWidth: 1.5},
    {left: 59, right: 57, top: 646, height: 503, show: true, backgroundColor: '#fff8dc', borderColor: '#000', borderWidth: 1.5}
  ],
  xAxis: [xAxis(0, hm), xAxis(1, hms)],
  yAxis: [yAxis(0, 'left'), yAxis(0, 'right'), yAxis(1, 'left'), yAxis(1, 'right')],
  legend: [
    {orient: 'vertical', left: 2155, top: 543, padding: [2, 99, 4, 2], itemGap: 1, itemWidth: 24, itemHeight: 5,
     backgroundColor: '#fff8dc', borderColor: '#d8c39c', borderWidth: 1.2, borderRadius: 4,
     textStyle: legText, selectedMode: false,
     data: [{name: 'peak dB(Z)', icon: 'circle'}, {name: 'peak dB(C)', icon: 'circle'}, {name: 'peak dB(A)', icon: 'circle'}]},
    {orient: 'vertical', left: 2258, top: 545, padding: 0, itemGap: 1, itemWidth: 22, itemHeight: 4,
     textStyle: legText, selectedMode: false,
     data: [{name: 'avg dB(Z)', icon: 'rect'}, {name: 'avg dB(C)', icon: 'rect'}, {name: 'avg dB(A)', icon: 'rect'}]},
    {orient: 'vertical', left: 2277, top: 1103, padding: [2, 5, 4, 2], itemGap: 1, itemWidth: 22, itemHeight: 4,
     backgroundColor: '#fff8dc', borderColor: '#d8c39c', borderWidth: 1.2, borderRadius: 4,
     textStyle: legText, selectedMode: false,
     data: [{name: 'dB(Z)', icon: 'rect'}, {name: 'dB(C)', icon: 'rect'}, {name: 'dB(A)', icon: 'rect'}]}
  ],
  series: [
    scat('peak dB(Z)', peakZ, '#1e90ff'),
    scat('peak dB(C)', peakC, '#ff00ff'),
    scat('peak dB(A)', peakA, '#2e8b57'),
    line('avg dB(Z)', avgZ, '#4682b4', 1.3, 0, 0, 4),
    line('avg dB(C)', avgC, '#da70d6', 1.3, 0, 0, 4),
    line('avg dB(A)', avgA, '#9acd32', 1.3, 0, 0, 4),
    {
      type: 'custom', xAxisIndex: 1, yAxisIndex: 2, data: [[envLo[0][0], envLo[0][1]]], clip: true, silent: true, z: 1,
      renderItem: function (params, api) {
        const pts = envHi.map(p => api.coord(p));
        for (let i = envLo.length - 1; i >= 0; i--) pts.push(api.coord(envLo[i]));
        return {type: 'polygon', shape: {points: pts}, style: {fill: 'rgba(240,130,110,0.38)'}};
      }
    },
    line('dB(Z)', z5, '#dc143c', 2, 1, 2, 5),
    line('dB(C)', c5, '#ff8c00', 1.8, 1, 2, 4),
    line('dB(A)', a5, '#ffd700', 1.6, 1, 2, 4)
  ]
};
const chart = echarts.init(document.getElementById('c'), null, {renderer: 'canvas'});
chart.setOption(option);
</script></body></html>
